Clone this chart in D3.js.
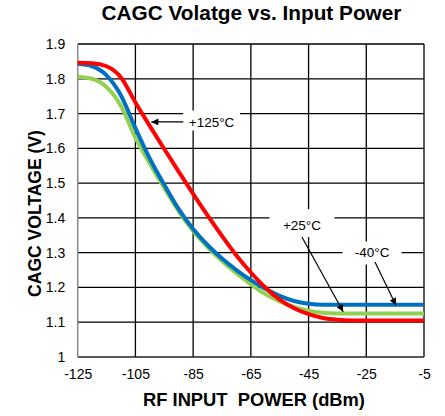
<!DOCTYPE html>
<html><head><meta charset="utf-8">
<script src="https://cdn.jsdelivr.net/npm/d3@7/dist/d3.min.js"></script>
<style>body{margin:0;background:#fff}text{font-family:"Liberation Sans",Arial,sans-serif}</style>
</head><body><svg id="c" width="445" height="416"></svg>
<script>
const powerDbm = [-125,-120,-115,-110,-105,-100,-95,-90,-85,-80,-75,-70,-65,-60,-55,-50,-45,-40,-35,-30,-25,-20,-15,-10,-5];
const voltM40 = [1.843,1.836,1.810,1.752,1.658,1.570,1.495,1.425,1.368,1.322,1.283,1.250,1.221,1.196,1.176,1.161,1.153,1.150,1.150,1.150,1.150,1.150,1.150,1.150,1.150];
const voltP25 = [1.806,1.800,1.776,1.722,1.630,1.556,1.486,1.419,1.362,1.316,1.276,1.241,1.209,1.181,1.160,1.144,1.133,1.127,1.125,1.125,1.125,1.125,1.125,1.125,1.125];
const voltP125 = [1.846,1.845,1.836,1.804,1.732,1.664,1.598,1.533,1.469,1.407,1.348,1.292,1.243,1.200,1.165,1.140,1.123,1.112,1.107,1.105,1.105,1.105,1.105,1.105,1.105];
const xTicks = [-125,-105,-85,-65,-45,-25,-5];
const yTicks = [1,1.1,1.2,1.3,1.4,1.5,1.6,1.7,1.8,1.9];
const seriesNames = ["-40°C","+25°C","+125°C"];
const seriesColors = ["#0070C0","#92D050","#FF0000"];

const svg = d3.select("#c");
const L=77.7, R=424, T=44, B=357;
const x = d3.scaleLinear().domain([-125,-5]).range([L,R]);
const y = d3.scaleLinear().domain([1,1.9]).range([B,T]);

function fitText(sel, target){
  const w = sel.node().getComputedTextLength();
  const fs = +sel.attr("font-size");
  sel.attr("font-size", fs*target/w);
}

const title = svg.append("text").attr("x",251.5).attr("y",20).attr("text-anchor","middle")
  .attr("font-size",16).attr("font-weight","bold").text("CAGC Volatge vs. Input Power");
fitText(title, 300);

const g = svg.append("g");
g.selectAll(".vg").data(xTicks.slice(1)).enter().append("line")
  .attr("x1",d=>x(d)).attr("x2",d=>x(d)).attr("y1",T).attr("y2",B)
  .attr("stroke","#000").attr("stroke-width",1.3);
g.selectAll(".hg").data(yTicks.slice(1)).enter().append("line")
  .attr("x1",L).attr("x2",R).attr("y1",d=>y(d)).attr("y2",d=>y(d))
  .attr("stroke","#000").attr("stroke-width",1.3);
g.append("line").attr("x1",L).attr("x2",R).attr("y1",B).attr("y2",B).attr("stroke","#222").attr("stroke-width",1.3);
g.append("line").attr("x1",L).attr("x2",L).attr("y1",T).attr("y2",B).attr("stroke","#888").attr("stroke-width",1.5);

const xa = svg.append("g").attr("transform",`translate(0,${B})`)
  .call(d3.axisBottom(x).tickValues(xTicks).tickSize(0).tickPadding(12).tickFormat(d=>String(d)));
xa.select(".domain").remove();
xa.selectAll("text").attr("font-size",14).attr("fill","#000").style("font-family","Liberation Sans, Arial");
const ya = svg.append("g").attr("transform",`translate(${L},0)`)
  .call(d3.axisLeft(y).tickValues(yTicks).tickSize(0).tickPadding(12.5).tickFormat(d=>String(+d.toFixed(1))));
ya.select(".domain").remove();
ya.selectAll("text").attr("font-size",14).attr("fill","#000").style("font-family","Liberation Sans, Arial");

const xt = svg.append("text").attr("x",254).attr("y",406).attr("text-anchor","middle")
  .attr("font-size",16).attr("font-weight","bold").style("white-space","pre").text("RF INPUT  POWER (dBm)");
fitText(xt, 222);
const yt = svg.append("text").attr("transform","translate(41,213.5) rotate(-90)").attr("text-anchor","middle")
  .attr("font-size",15).attr("font-weight","bold").text("CAGC VOLTAGE (V)");
fitText(yt, 167);

const labels = [
  {t:seriesNames[2], cx:-78.6, cy:1.680, w:57, h:20, ty:1.674},
  {t:seriesNames[1], cx:-47.3, cy:1.385, w:65, h:28, ty:1.377},
  {t:seriesNames[0], cx:-23, cy:1.299, w:59, h:23, ty:1.301}
];
labels.forEach(b=>{
  svg.append("rect").attr("x",x(b.cx)-b.w/2).attr("y",y(b.cy)-b.h/2).attr("width",b.w).attr("height",b.h).attr("fill","#fff");
});

const line = d3.line().x(d=>x(d[0])).y(d=>y(d[1])).curve(d3.curveMonotoneX);
const data = [voltM40, voltP25, voltP125];
[1,0,2].forEach(i=>{
  svg.append("path").datum(powerDbm.map((p,k)=>[p,data[i][k]]))
    .attr("d",line).attr("fill","none").attr("stroke",seriesColors[i]).attr("stroke-width",4).attr("stroke-linejoin","round");
});

labels.forEach(b=>{
  svg.append("text").attr("x",x(b.cx)).attr("y",y(b.ty)).attr("text-anchor","middle").attr("dominant-baseline","central")
    .attr("font-size",13.5).text(b.t);
});
svg.append("defs").append("marker").attr("id","ah").attr("viewBox","0 0 10 10").attr("refX",10).attr("refY",5)
  .attr("markerWidth",9).attr("markerHeight",7).attr("markerUnits","userSpaceOnUse").attr("orient","auto")
  .append("path").attr("d","M0,0L10,5L0,10Z").attr("fill","#000");
const arrows = [
  {x1:-88.4,y1:1.676,x2:-99.5,y2:1.676},
  {x1:-47.3,y1:1.345,x2:-33,y2:1.13},
  {x1:-22,y1:1.273,x2:-14.7,y2:1.149}
];
arrows.forEach(a=>{
  svg.append("line").attr("x1",x(a.x1)).attr("y1",y(a.y1)).attr("x2",x(a.x2)).attr("y2",y(a.y2))
    .attr("stroke","#000").attr("stroke-width",1.2).attr("marker-end","url(#ah)");
});
</script></body></html>
